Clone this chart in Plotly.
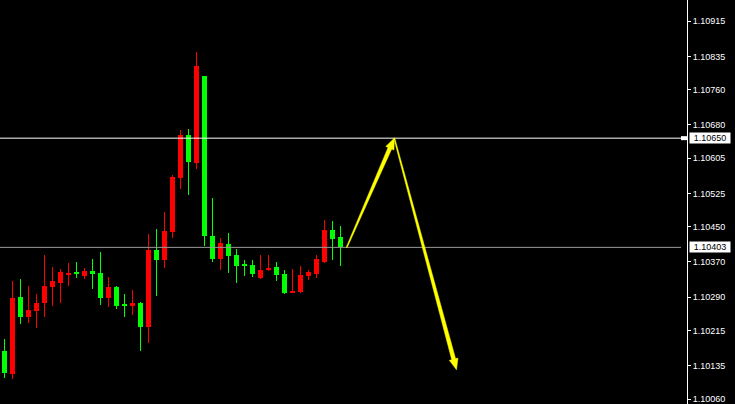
import plotly.graph_objects as go

# ---- data ----
opens  = [1.10169, 1.10117, 1.10291, 1.10245, 1.10259, 1.10277, 1.10313, 1.10322, 1.10341, 1.10345,
          1.10338, 1.10350, 1.10345, 1.10289, 1.10313, 1.10275, 1.10270, 1.10277, 1.10223, 1.10397,
          1.10374, 1.10438, 1.10560, 1.10657, 1.10594, 1.10791, 1.10429, 1.10377, 1.10411, 1.10386,
          1.10364, 1.10363, 1.10334, 1.10352, 1.10359, 1.10343, 1.10302, 1.10302, 1.10338, 1.10343,
          1.10370, 1.10442, 1.10426]
highs  = [1.10196, 1.10327, 1.10331, 1.10316, 1.10298, 1.10386, 1.10359, 1.10354, 1.10368, 1.10370,
          1.10356, 1.10377, 1.10393, 1.10336, 1.10316, 1.10298, 1.10306, 1.10279, 1.10433, 1.10445,
          1.10483, 1.10567, 1.10668, 1.10671, 1.10845, 1.10791, 1.10515, 1.10424, 1.10436, 1.10399,
          1.10374, 1.10374, 1.10386, 1.10386, 1.10370, 1.10352, 1.10354, 1.10361, 1.10352, 1.10386,
          1.10465, 1.10463, 1.10451]
lows   = [1.10108, 1.10105, 1.10230, 1.10232, 1.10221, 1.10245, 1.10270, 1.10277, 1.10316, 1.10334,
          1.10331, 1.10309, 1.10273, 1.10268, 1.10264, 1.10245, 1.10250, 1.10169, 1.10187, 1.10293,
          1.10356, 1.10424, 1.10535, 1.10521, 1.10580, 1.10406, 1.10370, 1.10352, 1.10345, 1.10322,
          1.10338, 1.10336, 1.10331, 1.10350, 1.10327, 1.10298, 1.10300, 1.10300, 1.10329, 1.10334,
          1.10368, 1.10374, 1.10361]
closes = [1.10119, 1.10289, 1.10245, 1.10261, 1.10277, 1.10316, 1.10327, 1.10347, 1.10345, 1.10343,
          1.10350, 1.10343, 1.10289, 1.10313, 1.10270, 1.10270, 1.10277, 1.10223, 1.10397, 1.10374,
          1.10440, 1.10562, 1.10657, 1.10596, 1.10813, 1.10429, 1.10377, 1.10413, 1.10384, 1.10361,
          1.10362, 1.10343, 1.10352, 1.10356, 1.10341, 1.10300, 1.10304, 1.10341, 1.10347, 1.10377,
          1.10442, 1.10422, 1.10403]

tick_vals = [1.10915, 1.10835, 1.10760, 1.10680, 1.10605, 1.10525, 1.10450,
             1.10370, 1.10290, 1.10215, 1.10135, 1.10060]
tick_text = ["%.5f" % v for v in tick_vals]

level_lines = [1.10650, 1.10403]
level_colors = ["#ffffff", "#9a9a9a"]

# forecast arrow path (bar index, price)
arrow_x = [42.78, 48.72, 56.5]
arrow_y = [1.10403, 1.10650, 1.10126]

UP, DOWN = "#ff0000", "#00ff00"

# ---- geometry ----
W, H = 735, 404
R_MARGIN = 48
PLOT_W = W - R_MARGIN
PX_PER_BAR = 8.0
X0 = -0.5625
X1 = X0 + PLOT_W / PX_PER_BAR
Y_RANGE = [1.100487, 1.109625]
PX_PER_PRICE = H / (Y_RANGE[1] - Y_RANGE[0])

n = len(opens)
idx = list(range(n))
min_body = 1.0 / PX_PER_PRICE

fig = go.Figure()

# wicks
for up in (True, False):
    sel = [i for i in idx if (closes[i] >= opens[i]) == up]
    fig.add_trace(go.Bar(
        x=sel, base=[lows[i] for i in sel], y=[highs[i] - lows[i] for i in sel],
        width=1.0 / PX_PER_BAR, marker=dict(color=UP if up else DOWN, line=dict(width=0)),
        hoverinfo="skip", showlegend=False))
# bodies
for up in (True, False):
    sel = [i for i in idx if (closes[i] >= opens[i]) == up]
    fig.add_trace(go.Bar(
        x=sel, base=[min(opens[i], closes[i]) for i in sel],
        y=[max(abs(closes[i] - opens[i]), min_body) for i in sel],
        width=5.0 / PX_PER_BAR, marker=dict(color=UP if up else DOWN, line=dict(width=0)),
        customdata=[[opens[i], highs[i], lows[i], closes[i]] for i in sel],
        hovertemplate="O %{customdata[0]:.5f}<br>H %{customdata[1]:.5f}<br>L %{customdata[2]:.5f}<br>C %{customdata[3]:.5f}<extra></extra>",
        showlegend=False))

# horizontal level lines
shapes = []
for lv, col in zip(level_lines, level_colors):
    shapes.append(dict(type="line", xref="paper", x0=0, x1=(PLOT_W - 6) / PLOT_W, yref="y", y0=lv, y1=lv,
                       line=dict(color=col, width=1), layer="above"))
# small marker on the axis for the first level
shapes.append(dict(type="rect", xref="paper", x0=(PLOT_W - 6) / PLOT_W, x1=1.0, yref="y",
                   y0=level_lines[0] - 2 / PX_PER_PRICE, y1=level_lines[0] + 2 / PX_PER_PRICE,
                   fillcolor="#ffffff", line=dict(width=0), layer="above"))


# tapered arrows as polygons
def to_px(x, y):
    return ((x - X0) * PX_PER_BAR, (Y_RANGE[1] - y) * PX_PER_PRICE)


def to_data(px, py):
    return (px / PX_PER_BAR + X0, Y_RANGE[1] - py / PX_PER_PRICE)


def tapered_arrow(a, b, w0, w1, head_len, head_half):
    ax, ay = to_px(*a)
    bx, by = to_px(*b)
    dx, dy = bx - ax, by - ay
    L = (dx * dx + dy * dy) ** 0.5
    ux, uy = dx / L, dy / L
    nx, ny = -uy, ux
    cx, cy = bx - ux * head_len, by - uy * head_len
    pts = [
        (ax + nx * w0 / 2, ay + ny * w0 / 2),
        (cx + nx * w1 / 2, cy + ny * w1 / 2),
        (cx + nx * head_half, cy + ny * head_half),
        (bx, by),
        (cx - nx * head_half, cy - ny * head_half),
        (cx - nx * w1 / 2, cy - ny * w1 / 2),
        (ax - nx * w0 / 2, ay - ny * w0 / 2),
    ]
    d = []
    for k, (px, py) in enumerate(pts):
        x, y = to_data(px, py)
        d.append(("M" if k == 0 else "L") + "%.5f,%.7f" % (x, y))
    return " ".join(d) + " Z"


for k in range(len(arrow_x) - 1):
    shapes.append(dict(type="path", xref="x", yref="y",
                       path=tapered_arrow((arrow_x[k], arrow_y[k]), (arrow_x[k + 1], arrow_y[k + 1]),
                                          1.0, 4.0, 11, 4.5),
                       fillcolor="#ffff00", line=dict(color="#ffff00", width=0.5), layer="above"))

annotations = []
for lv in level_lines:
    annotations.append(dict(xref="paper", x=1.0, xanchor="left", xshift=2, yref="y", y=lv,
                            yanchor="middle", text="%.5f" % lv, showarrow=False,
                            bgcolor="#ffffff", font=dict(color="#000000", size=9, family="Liberation Sans"),
                            width=40, height=10, borderpad=0))

fig.update_layout(
    width=W, height=H,
    margin=dict(l=0, r=R_MARGIN, t=0, b=0),
    paper_bgcolor="#000000", plot_bgcolor="#000000",
    barmode="overlay", bargap=0,
    showlegend=False,
    shapes=shapes, annotations=annotations,
    xaxis=dict(range=[X0, X1], visible=False, fixedrange=True),
    yaxis=dict(range=Y_RANGE, side="right", showgrid=False, zeroline=False,
               showline=True, linecolor="#ffffff", linewidth=1,
               ticks="outside", ticklen=3, tickcolor="#ffffff", tickwidth=1,
               tickvals=tick_vals, ticktext=tick_text, ticklabeloverflow="allow",
               tickfont=dict(color="#ffffff", size=9, family="Liberation Sans"),
               fixedrange=True),
)

fig.write_html("out.html", config={"displayModeBar": False},
               post_script="document.body.style.margin='0';document.body.style.background='#000';")
